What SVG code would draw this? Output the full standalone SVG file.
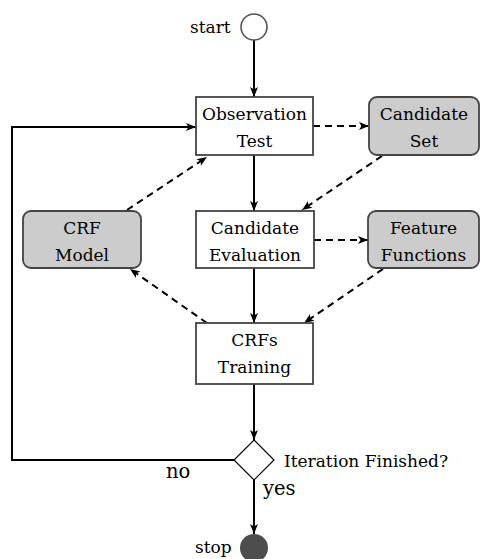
<svg xmlns="http://www.w3.org/2000/svg" width="481" height="559" viewBox="0 0 481 559">
  <style>
    .lbl { font-family: "DejaVu Serif", "Liberation Serif", serif; font-size: 17px; fill: #000; text-anchor: middle; }
    .side { font-family: "DejaVu Serif", "Liberation Serif", serif; font-size: 17px; fill: #000; }
    .big { font-family: "DejaVu Serif", "Liberation Serif", serif; font-size: 19.5px; fill: #000; }
    .proc { fill: #fff; stroke: #444; stroke-width: 1.8; }
    .data { fill: #cccccc; stroke: #444; stroke-width: 1.8; }
    .flow { fill: none; stroke: #000; stroke-width: 2; marker-end: url(#tip); }
    .dash { fill: none; stroke: #000; stroke-width: 2; stroke-dasharray: 7 5; marker-end: url(#tip); }
  </style>
  <defs>
    <marker id="tip" viewBox="-1 -5 12 10" markerWidth="12" markerHeight="10" refX="10" refY="0" orient="auto" markerUnits="userSpaceOnUse">
      <path d="M0,-4 L10,0 L0,4 L2.5,0 z" fill="#000"/>
    </marker>
  </defs>

  <!-- connectors -->
  <g id="connectors">
    <line class="flow" x1="254" y1="40" x2="254" y2="97"/>
    <line class="flow" x1="254" y1="155" x2="254" y2="211"/>
    <line class="flow" x1="254" y1="268" x2="254" y2="323"/>
    <line class="flow" x1="254" y1="384" x2="254" y2="440"/>
    <line class="flow" x1="254" y1="480" x2="254" y2="534"/>
    <polyline class="flow" points="234,460 12,460 12,127 196,127"/>
    <line class="dash" x1="313" y1="126" x2="369" y2="126"/>
    <line class="dash" x1="314" y1="240" x2="368" y2="240"/>
    <line class="dash" x1="382" y1="156" x2="302" y2="210"/>
    <line class="dash" x1="383" y1="269" x2="304" y2="323"/>
    <line class="dash" x1="127" y1="210" x2="207" y2="157"/>
    <line class="dash" x1="207" y1="323" x2="130" y2="269"/>
    <text class="big" x="166" y="478">no</text>
    <text class="big" x="263" y="495">yes</text>
  </g>

  <g id="start">
    <circle cx="254" cy="27" r="13" fill="#fff" stroke="#555" stroke-width="1.6"/>
    <text class="side" x="190" y="33">start</text>
  </g>

  <g id="observation-test">
    <rect class="proc" x="196" y="97" width="117" height="58"/>
    <text class="lbl" x="254.5" y="120">Observation</text>
    <text class="lbl" x="254.5" y="147">Test</text>
  </g>

  <g id="candidate-set">
    <rect class="data" x="369" y="97" width="110" height="58" rx="8"/>
    <text class="lbl" x="424" y="120">Candidate</text>
    <text class="lbl" x="424" y="147">Set</text>
  </g>

  <g id="crf-model">
    <rect class="data" x="23" y="211" width="118" height="57" rx="8"/>
    <text class="lbl" x="82" y="234">CRF</text>
    <text class="lbl" x="82" y="261">Model</text>
  </g>

  <g id="candidate-evaluation">
    <rect class="proc" x="196" y="211" width="118" height="57"/>
    <text class="lbl" x="255" y="234">Candidate</text>
    <text class="lbl" x="255" y="261">Evaluation</text>
  </g>

  <g id="feature-functions">
    <rect class="data" x="368" y="211" width="111" height="57" rx="8"/>
    <text class="lbl" x="423.5" y="234">Feature</text>
    <text class="lbl" x="423.5" y="261">Functions</text>
  </g>

  <g id="crfs-training">
    <rect class="proc" x="196" y="323" width="117" height="61"/>
    <text class="lbl" x="254.5" y="346">CRFs</text>
    <text class="lbl" x="254.5" y="373">Training</text>
  </g>

  <g id="iteration-finished">
    <polygon points="254,440 274,460 254,480 234,460" fill="#fff" stroke="#000" stroke-width="1.2"/>
    <text class="side" x="284" y="467">Iteration Finished?</text>
  </g>

  <g id="stop">
    <circle cx="254" cy="548" r="14" fill="#4d4d4d"/>
    <text class="side" x="195" y="553">stop</text>
  </g>
</svg>
